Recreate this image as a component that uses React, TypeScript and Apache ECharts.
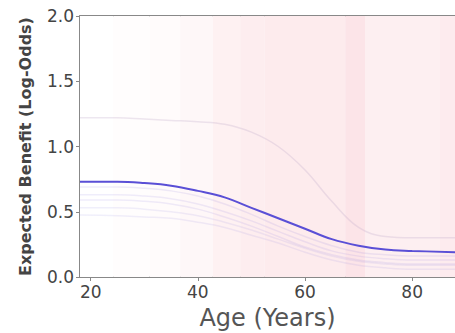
import React, { useEffect, useRef } from "react";
import * as echarts from "echarts";

const ages = [18, 25, 30, 35, 40, 45, 50, 55, 60, 65, 70, 75, 80, 88];
const mainBenefit = [0.73, 0.73, 0.72, 0.7, 0.66, 0.61, 0.53, 0.45, 0.37, 0.29, 0.24, 0.21, 0.2, 0.19];
const upperBenefit = [1.22, 1.22, 1.21, 1.2, 1.19, 1.17, 1.11, 1.0, 0.82, 0.58, 0.38, 0.31, 0.3, 0.3];
const faintA = [0.69, 0.69, 0.68, 0.66, 0.62, 0.56, 0.48, 0.39, 0.31, 0.24, 0.19, 0.17, 0.16, 0.16];
const faintB = [0.63, 0.63, 0.62, 0.6, 0.56, 0.5, 0.43, 0.35, 0.27, 0.2, 0.16, 0.14, 0.13, 0.13];
const faintC = [0.59, 0.59, 0.58, 0.56, 0.52, 0.46, 0.39, 0.31, 0.23, 0.17, 0.13, 0.11, 0.1, 0.1];
const faintD = [0.53, 0.53, 0.52, 0.5, 0.47, 0.42, 0.36, 0.29, 0.22, 0.16, 0.12, 0.1, 0.09, 0.09];
const faintE = [0.475, 0.47, 0.46, 0.45, 0.42, 0.38, 0.32, 0.26, 0.19, 0.13, 0.09, 0.07, 0.06, 0.06];

const bandEdges = [18, 24.2, 31, 36.7, 42.8, 47.9, 52.5, 67.5, 71.2, 85.2, 88];
const bandLevels = [0, 0.05, 0.1, 0.2, 0.35, 0.45, 0.5, 0.65, 0.4, 0.48];

const xTicks = [20, 40, 60, 80];

function levelColor(l: number) {
  const full = [251, 214, 219];
  const c = full.map((v) => Math.round(255 - (255 - v) * l));
  return `rgb(${c[0]},${c[1]},${c[2]})`;
}

export default function App() {
  const ref = useRef<HTMLDivElement>(null);
  useEffect(() => {
    if (!ref.current) return;
    const chart = echarts.init(ref.current, null, { renderer: "svg" });
    const pair = (arr: number[]) => ages.map((a, i) => [a, arr[i]]);
    const faint = (arr: number[], color: string) => ({
      type: "line",
      data: pair(arr),
      smooth: 0.4,
      showSymbol: false,
      lineStyle: { color, width: 1.5 },
      z: 3,
    });
    const markAreaData = bandLevels.map((l, i) => [
      { xAxis: bandEdges[i], itemStyle: { color: levelColor(l) } },
      { xAxis: bandEdges[i + 1] },
    ]);
    chart.setOption({
      animation: false,
      grid: { left: 80, right: 0, top: 16, bottom: 56, outerBoundsMode: "none", containLabel: false },
      xAxis: [
        {
          type: "value",
          min: 18,
          max: 88,
          axisLine: { show: true, lineStyle: { color: "#888", width: 2 } },
          axisTick: {
            show: true,
            length: 4,
            lineStyle: { color: "#888" },
            customValues: xTicks,
          },
          axisLabel: {
            customValues: xTicks,
            color: "#444",
            fontSize: 17,
            fontFamily: "DejaVu Sans",
            margin: 6,
          },
          splitLine: { show: false },
          name: "Age (Years)",
          nameLocation: "middle",
          nameGap: 29,
          nameTextStyle: { color: "#555", fontSize: 24, fontFamily: "DejaVu Sans" },
        },
        {
          type: "value",
          position: "top",
          min: 18,
          max: 88,
          axisLine: { show: true, lineStyle: { color: "#888", width: 2 } },
          axisTick: { show: false },
          axisLabel: { show: false },
          splitLine: { show: false },
        },
      ],
      yAxis: {
        type: "value",
        min: 0,
        max: 2,
        interval: 0.5,
        axisLine: { show: true, lineStyle: { color: "#888", width: 2 } },
        axisTick: { show: true, length: 4, lineStyle: { color: "#888" } },
        axisLabel: {
          color: "#444",
          fontSize: 17,
          fontFamily: "DejaVu Sans",
          margin: 6,
          formatter: (v: number) => v.toFixed(1),
        },
        splitLine: { show: false },
        name: "Expected Benefit (Log-Odds)",
        nameLocation: "middle",
        nameGap: 47,
        nameTextStyle: { color: "#444", fontSize: 16, fontFamily: "DejaVu Sans", fontWeight: "bold" },
      },
      series: [
        {
          type: "line",
          data: [],
          markArea: { silent: true, data: markAreaData },
          z: 1,
        },
        faint(upperBenefit, "rgba(190,170,200,0.28)"),
        faint(faintA, "rgba(120,110,220,0.13)"),
        faint(faintB, "rgba(120,110,220,0.12)"),
        faint(faintC, "rgba(120,110,220,0.12)"),
        faint(faintD, "rgba(120,110,220,0.11)"),
        faint(faintE, "rgba(120,110,220,0.11)"),
        {
          type: "line",
          data: pair(mainBenefit),
          smooth: 0.4,
          showSymbol: false,
          lineStyle: { color: "#5a4fd6", width: 2 },
          z: 5,
        },
      ],
    });
    return () => chart.dispose();
  }, []);
  return (
    <div
      ref={ref}
      style={{ position: "fixed", left: 0, top: 0, width: 455, height: 333, background: "#fff" }}
    />
  );
}
